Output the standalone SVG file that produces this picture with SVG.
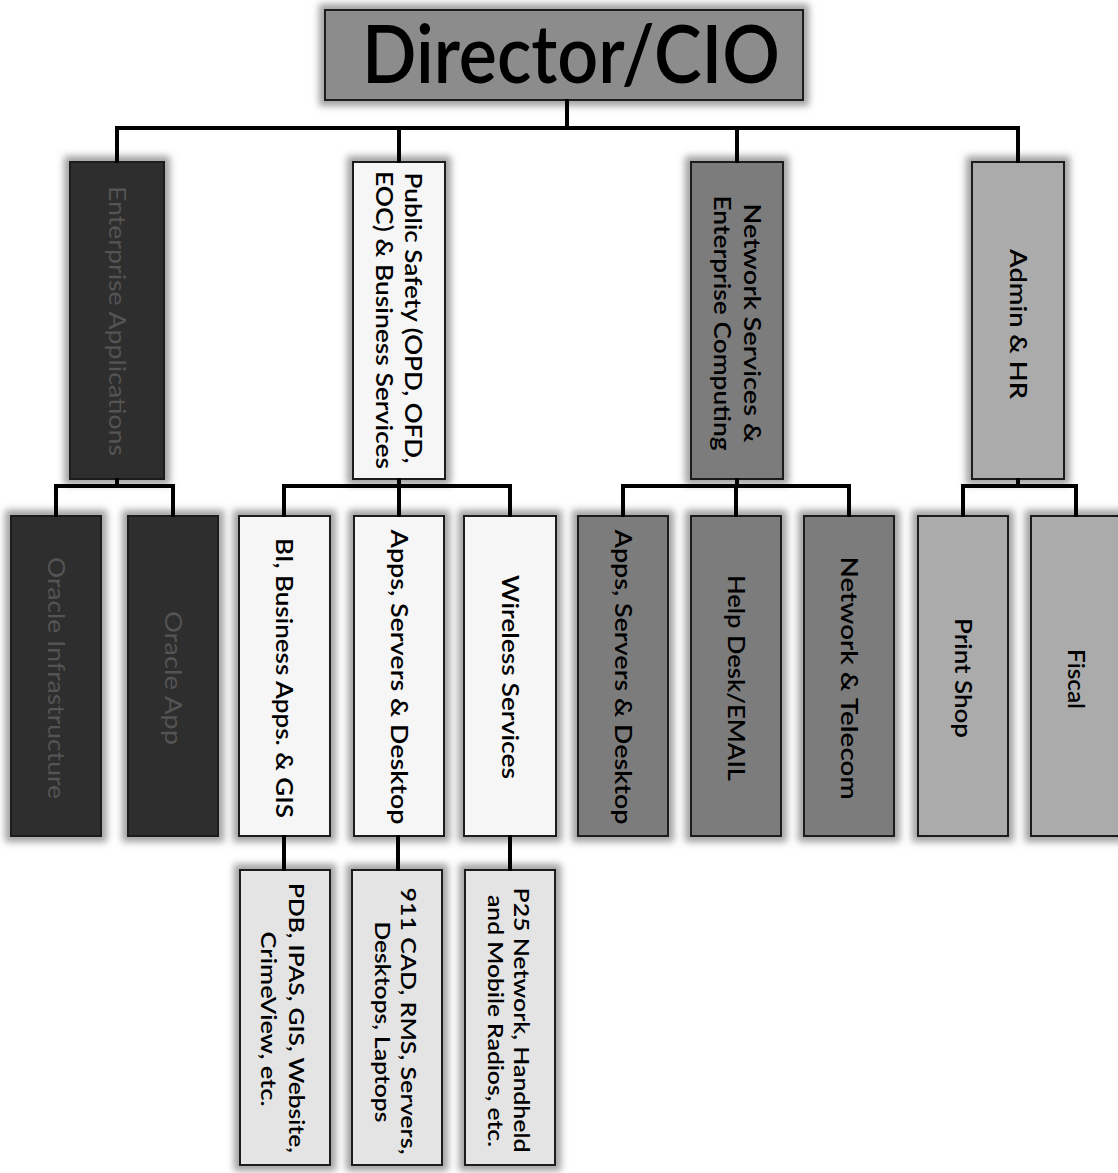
<svg xmlns="http://www.w3.org/2000/svg" width="1118" height="1173" viewBox="0 0 1118 1173">
<defs>
<filter id="halo" x="-30%" y="-15%" width="160%" height="130%">
<feMorphology in="SourceAlpha" operator="dilate" radius="5" result="d"/>
<feGaussianBlur in="d" stdDeviation="3.5" result="b"/>
<feFlood flood-color="#8a8a8a" flood-opacity="0.8"/>
<feComposite in2="b" operator="in" result="s"/>
<feMerge><feMergeNode in="s"/><feMergeNode in="SourceGraphic"/></feMerge>
</filter>
</defs>
<style>
rect.box{stroke:#1a1a1a;stroke-width:2;filter:url(#halo)}
.dark{fill:#2f2f2f}
.white{fill:#f6f6f6}
.pale{fill:#e4e4e4}
.mid{fill:#7c7c7c}
.light{fill:#ababab}
.dir{fill:#8c8c8c}
text{font-family:Lato,"Open Sans","Liberation Sans",sans-serif;fill:#000;text-anchor:middle;font-weight:600}
text.t{font-size:23px}
text.s{font-size:21px}
text.dim{fill:#545454;font-weight:400}
.conn{stroke:#000;stroke-width:4;fill:none;stroke-linecap:square}
</style>
<rect width="1118" height="1173" fill="#fff"/>

<g id="director">
<rect class="box dir" x="325" y="10" width="478" height="90"/>
<text x="571" y="83" font-size="80" textLength="418" lengthAdjust="spacingAndGlyphs">Director/CIO</text>
</g>

<g id="enterprise-applications">
<rect class="box dark" x="70" y="162" width="94" height="317"/>
<text class="t dim" transform="translate(117,321) rotate(90)" x="0" y="8" textLength="270" lengthAdjust="spacingAndGlyphs">Enterprise Applications</text>
</g>
<g id="public-safety">
<rect class="box white" x="353" y="162" width="92" height="317"/>
<text class="t" transform="translate(399,318) rotate(90)" x="0" y="-6" textLength="291" lengthAdjust="spacingAndGlyphs">Public Safety (OPD, OFD,</text>
<text class="t" transform="translate(399,320) rotate(90)" x="0" y="23" textLength="298" lengthAdjust="spacingAndGlyphs">EOC) &amp; Business Services</text>
</g>
<g id="network-services">
<rect class="box mid" x="691" y="162" width="92" height="317"/>
<text class="t" transform="translate(737,323) rotate(90)" x="0" y="-7" textLength="239" lengthAdjust="spacingAndGlyphs">Network Services &amp;</text>
<text class="t" transform="translate(737,323) rotate(90)" x="0" y="23" textLength="255" lengthAdjust="spacingAndGlyphs">Enterprise Computing</text>
</g>
<g id="admin-hr">
<rect class="box light" x="972" y="162" width="92" height="317"/>
<text class="t" transform="translate(1018,324) rotate(90)" x="0" y="8" textLength="150" lengthAdjust="spacingAndGlyphs">Admin &amp; HR</text>
</g>

<g id="oracle-infrastructure">
<rect class="box dark" x="11" y="516" width="90" height="320"/>
<text class="t dim" transform="translate(56,678) rotate(90)" x="0" y="8" textLength="242" lengthAdjust="spacingAndGlyphs">Oracle Infrastructure</text>
</g>
<g id="oracle-app">
<rect class="box dark" x="128" y="516" width="90" height="320"/>
<text class="t dim" transform="translate(173,678) rotate(90)" x="0" y="8" textLength="134" lengthAdjust="spacingAndGlyphs">Oracle App</text>
</g>
<g id="bi-business-apps">
<rect class="box white" x="239" y="516" width="91" height="320"/>
<text class="t" transform="translate(284,678) rotate(90)" x="0" y="8" textLength="280" lengthAdjust="spacingAndGlyphs">BI, Business Apps. &amp; GIS</text>
</g>
<g id="ps-apps-servers-desktop">
<rect class="box white" x="354" y="516" width="90" height="320"/>
<text class="t" transform="translate(399,677) rotate(90)" x="0" y="8" textLength="295" lengthAdjust="spacingAndGlyphs">Apps, Servers &amp; Desktop</text>
</g>
<g id="wireless-services">
<rect class="box white" x="464" y="516" width="92" height="320"/>
<text class="t" transform="translate(510,677) rotate(90)" x="0" y="8" textLength="204" lengthAdjust="spacingAndGlyphs">Wireless Services</text>
</g>
<g id="ns-apps-servers-desktop">
<rect class="box mid" x="578" y="516" width="90" height="320"/>
<text class="t" transform="translate(623,677) rotate(90)" x="0" y="8" textLength="295" lengthAdjust="spacingAndGlyphs">Apps, Servers &amp; Desktop</text>
</g>
<g id="help-desk">
<rect class="box mid" x="691" y="516" width="90" height="320"/>
<text class="t" transform="translate(736,678) rotate(90)" x="0" y="8" textLength="206" lengthAdjust="spacingAndGlyphs">Help Desk/EMAIL</text>
</g>
<g id="network-telecom">
<rect class="box mid" x="804" y="516" width="90" height="320"/>
<text class="t" transform="translate(849,678) rotate(90)" x="0" y="8" textLength="243" lengthAdjust="spacingAndGlyphs">Network &amp; Telecom</text>
</g>
<g id="print-shop">
<rect class="box light" x="918" y="516" width="90" height="320"/>
<text class="t" transform="translate(963,678) rotate(90)" x="0" y="8" textLength="120" lengthAdjust="spacingAndGlyphs">Print Shop</text>
</g>
<g id="fiscal">
<rect class="box light" x="1031" y="516" width="90" height="320"/>
<text class="t" transform="translate(1076,679) rotate(90)" x="0" y="8" textLength="60" lengthAdjust="spacingAndGlyphs">Fiscal</text>
</g>

<g id="pdb-ipas">
<rect class="box pale" x="240" y="870" width="90" height="295"/>
<text class="s" transform="translate(285,1018) rotate(90)" x="0" y="-4" textLength="270" lengthAdjust="spacingAndGlyphs">PDB, IPAS, GIS, Website,</text>
<text class="s" transform="translate(285,1019) rotate(90)" x="0" y="24" textLength="175" lengthAdjust="spacingAndGlyphs">CrimeView, etc.</text>
</g>
<g id="cad-rms">
<rect class="box pale" x="352" y="870" width="90" height="295"/>
<text class="s" transform="translate(397,1021) rotate(90)" x="0" y="-4" textLength="267" lengthAdjust="spacingAndGlyphs">911 CAD, RMS, Servers,</text>
<text class="s" transform="translate(397,1022) rotate(90)" x="0" y="22" textLength="201" lengthAdjust="spacingAndGlyphs">Desktops, Laptops</text>
</g>
<g id="p25-network">
<rect class="box pale" x="465" y="870" width="90" height="295"/>
<text class="s" transform="translate(510,1020) rotate(90)" x="0" y="-4" textLength="265" lengthAdjust="spacingAndGlyphs">P25 Network, Handheld</text>
<text class="s" transform="translate(510,1021) rotate(90)" x="0" y="22" textLength="252" lengthAdjust="spacingAndGlyphs">and Mobile Radios, etc.</text>
</g>

<g id="connectors">
<path class="conn" d="M567 101V128M117 128H1018M117 128V161M399 128V161M737 128V161M1018 128V161"/>
<path class="conn" d="M117 480V486M56 486H173M56 486V515M173 486V515"/>
<path class="conn" d="M399 480V486M284 486H510M284 486V515M399 486V515M510 486V515"/>
<path class="conn" d="M737 480V486M623 486H849M623 486V515M736 486V515M849 486V515"/>
<path class="conn" d="M1018 480V486M963 486H1076M963 486V515M1076 486V515"/>
<path class="conn" d="M284 837V869M398 837V869M510 837V869"/>
</g>
</svg>
